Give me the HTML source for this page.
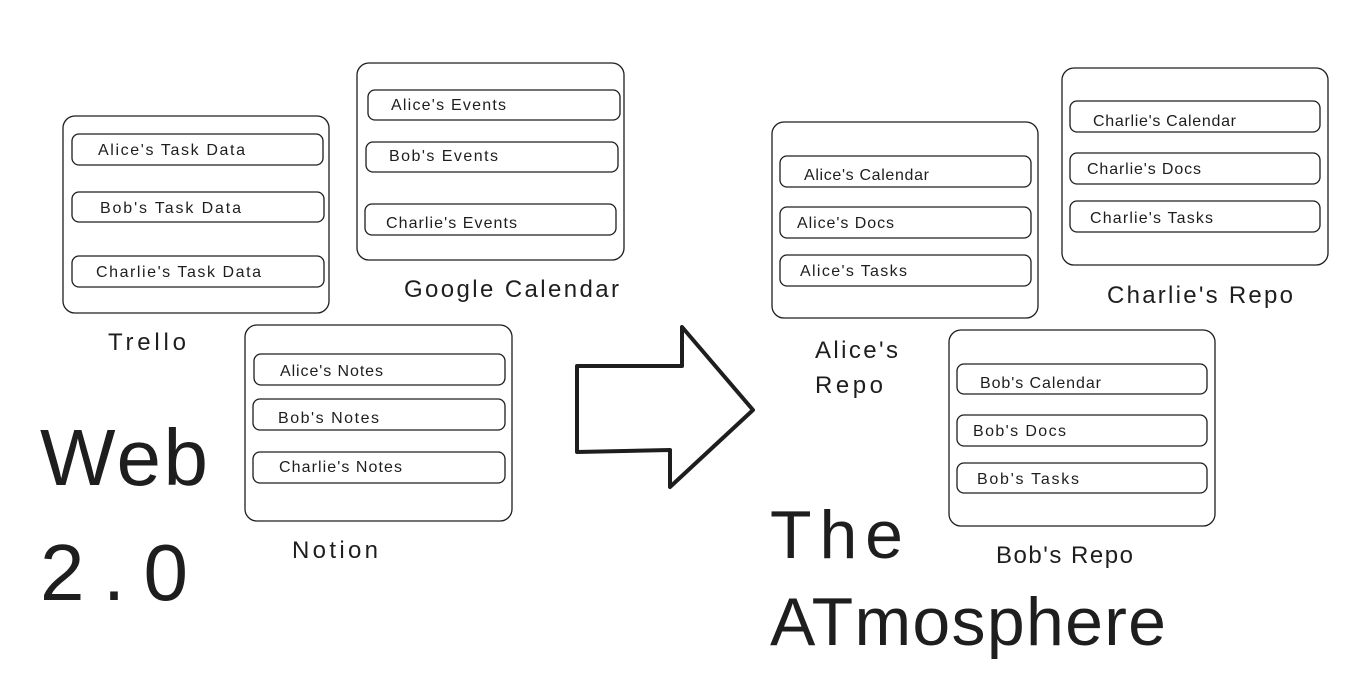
<!DOCTYPE html>
<html><head><meta charset="utf-8"><style>
html,body{margin:0;padding:0;background:#fff;}
svg{display:block;}
text{font-family:"Liberation Sans",sans-serif;fill:#1e1e1e;}
.b{fill:none;stroke:#1e1e1e;stroke-width:1.3;}
.i{font-size:16px;}
.l{font-size:24px;}
</style></head><body>
<svg width="1356" height="690" viewBox="0 0 1356 690" xmlns="http://www.w3.org/2000/svg">
<!-- Trello -->
<rect class="b" x="63" y="116" width="266" height="197" rx="12"/>
<rect class="b" x="72" y="134" width="251" height="31" rx="7"/><text class="i" x="98" y="155" textLength="147">Alice's Task Data</text>
<rect class="b" x="72" y="192" width="252" height="30" rx="7"/><text class="i" x="100" y="213" textLength="141">Bob's Task Data</text>
<rect class="b" x="72" y="256" width="252" height="31" rx="7"/><text class="i" x="96" y="277" textLength="165">Charlie's Task Data</text>
<text class="l" x="108" y="350" textLength="78">Trello</text>
<!-- Google Calendar -->
<rect class="b" x="357" y="63" width="267" height="197" rx="12"/>
<rect class="b" x="368" y="90" width="252" height="30" rx="7"/><text class="i" x="391" y="110" textLength="115">Alice's Events</text>
<rect class="b" x="366" y="142" width="252" height="30" rx="7"/><text class="i" x="389" y="161" textLength="109">Bob's Events</text>
<rect class="b" x="365" y="204" width="251" height="31" rx="7"/><text class="i" x="386" y="228" textLength="131">Charlie's Events</text>
<text class="l" x="404" y="297" textLength="215">Google Calendar</text>
<!-- Notion -->
<rect class="b" x="245" y="325" width="267" height="196" rx="12"/>
<rect class="b" x="254" y="354" width="251" height="31" rx="7"/><text class="i" x="280" y="376" textLength="103">Alice's Notes</text>
<rect class="b" x="253" y="399" width="252" height="31" rx="7"/><text class="i" x="278" y="423" textLength="101">Bob's Notes</text>
<rect class="b" x="253" y="452" width="252" height="31" rx="7"/><text class="i" x="279" y="472" textLength="123">Charlie's Notes</text>
<text class="l" x="292" y="558" textLength="86">Notion</text>
<!-- Web 2.0 -->
<text x="40" y="485" font-size="80" textLength="168">Web</text>
<text x="40" y="600" font-size="80" textLength="148">2.0</text>
<!-- Arrow -->
<polygon points="577,366 682,366 682,327 753,410 670,487 670,450 577,452" fill="none" stroke="#1e1e1e" stroke-width="4" stroke-linejoin="round"/>
<!-- Alice's Repo -->
<rect class="b" x="772" y="122" width="266" height="196" rx="12"/>
<rect class="b" x="780" y="156" width="251" height="31" rx="7"/><text class="i" x="804" y="180" textLength="125">Alice's Calendar</text>
<rect class="b" x="780" y="207" width="251" height="31" rx="7"/><text class="i" x="797" y="228" textLength="97">Alice's Docs</text>
<rect class="b" x="780" y="255" width="251" height="31" rx="7"/><text class="i" x="800" y="276" textLength="107">Alice's Tasks</text>
<text class="l" x="815" y="358" textLength="83">Alice's</text>
<text class="l" x="815" y="393" textLength="68">Repo</text>
<!-- Charlie's Repo -->
<rect class="b" x="1062" y="68" width="266" height="197" rx="12"/>
<rect class="b" x="1070" y="101" width="250" height="31" rx="7"/><text class="i" x="1093" y="126" textLength="143">Charlie's Calendar</text>
<rect class="b" x="1070" y="153" width="250" height="31" rx="7"/><text class="i" x="1087" y="174" textLength="114">Charlie's Docs</text>
<rect class="b" x="1070" y="201" width="250" height="31" rx="7"/><text class="i" x="1090" y="223" textLength="123">Charlie's Tasks</text>
<text class="l" x="1107" y="303" textLength="186">Charlie's Repo</text>
<!-- Bob's Repo -->
<rect class="b" x="949" y="330" width="266" height="196" rx="12"/>
<rect class="b" x="957" y="364" width="250" height="30" rx="7"/><text class="i" x="980" y="388" textLength="121">Bob's Calendar</text>
<rect class="b" x="957" y="415" width="250" height="31" rx="7"/><text class="i" x="973" y="436" textLength="93">Bob's Docs</text>
<rect class="b" x="957" y="463" width="250" height="30" rx="7"/><text class="i" x="977" y="484" textLength="102">Bob's Tasks</text>
<text class="l" x="996" y="563" textLength="137">Bob's Repo</text>
<!-- The ATmosphere -->
<text x="770" y="558" font-size="68" textLength="133">The</text>
<text x="770" y="645" font-size="68" textLength="396">ATmosphere</text>
</svg>
</body></html>
